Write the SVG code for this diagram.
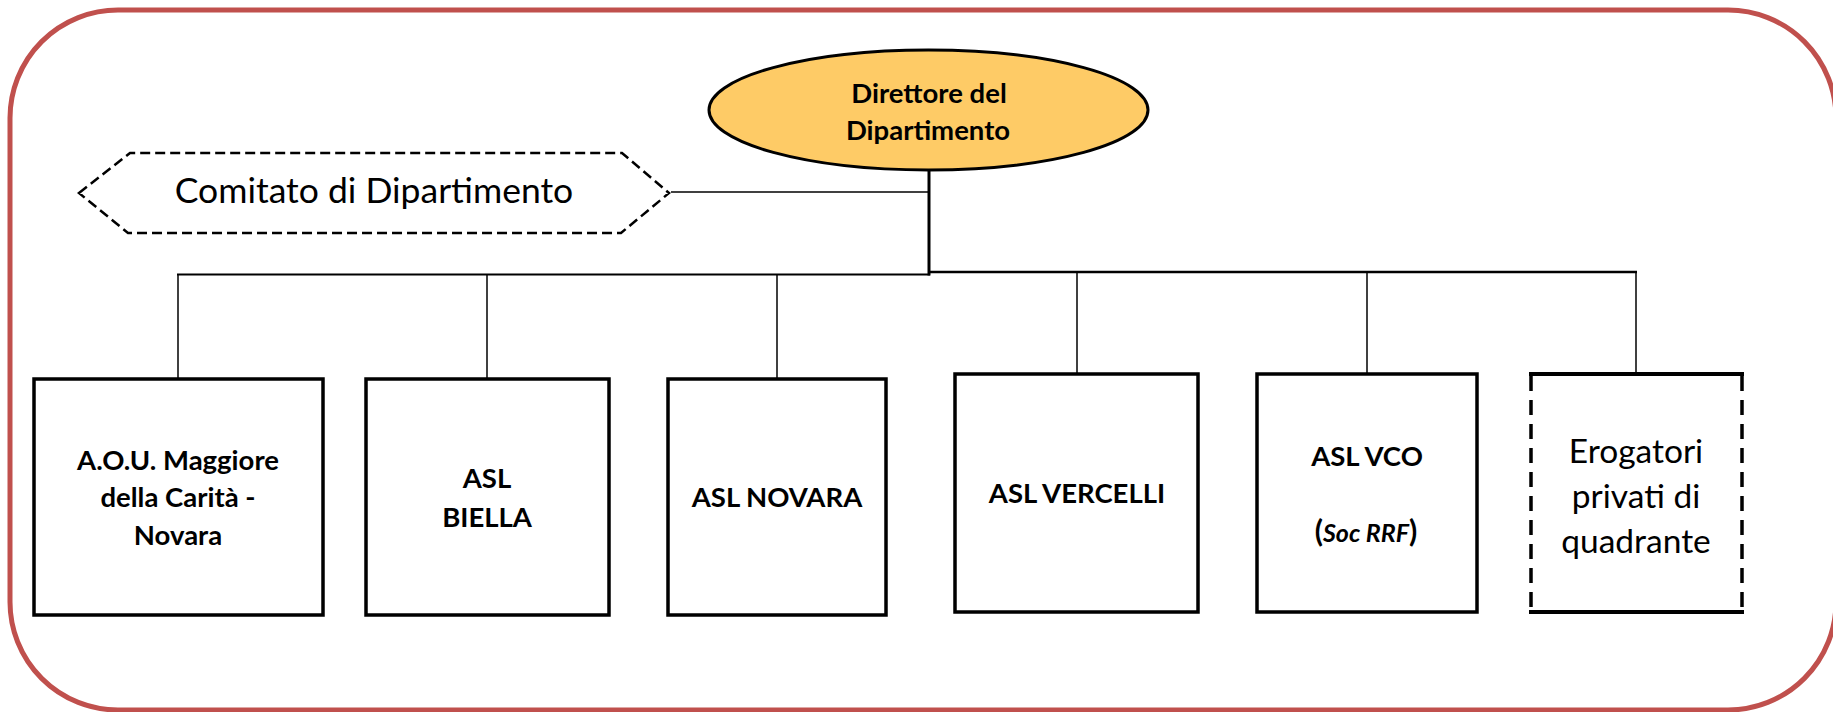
<svg xmlns="http://www.w3.org/2000/svg" width="1833" height="712" viewBox="0 0 1833 712">
<style>
.frame{fill:#FFFFFF;stroke:#C0504D;stroke-width:5}
.box{fill:#FFFFFF;stroke:#000000;stroke-width:3.5}
.b{font-family:Lato,"Liberation Sans",sans-serif;font-weight:bold;font-size:27.5px;fill:#000000;text-anchor:middle}
.r{font-family:Lato,"Liberation Sans",sans-serif;font-weight:normal;fill:#000000;text-anchor:middle}
.conn{stroke:#000000;fill:none}
</style>
<rect class="frame" x="10" y="10" width="1826" height="700" rx="108" ry="108"/>
<g id="connectors">
<line class="conn" x1="671" y1="192" x2="928" y2="192" stroke="#444444" stroke-width="1.5"/>
<line class="conn" x1="929" y1="170" x2="929" y2="275.5" stroke-width="3"/>
<line class="conn" x1="177" y1="274.5" x2="930" y2="274.5" stroke-width="2"/>
<line class="conn" x1="929" y1="272" x2="1637" y2="272" stroke-width="2.5"/>
<line class="conn" x1="178" y1="274" x2="178" y2="379" stroke-width="1.5"/>
<line class="conn" x1="487" y1="274" x2="487" y2="379" stroke-width="1.5"/>
<line class="conn" x1="777" y1="274" x2="777" y2="379" stroke-width="1.5"/>
<line class="conn" x1="1077" y1="272" x2="1077" y2="374" stroke-width="1.5"/>
<line class="conn" x1="1367" y1="272" x2="1367" y2="374" stroke-width="1.5"/>
<line class="conn" x1="1636" y1="272" x2="1636" y2="373" stroke-width="1.5"/>
</g>
<g id="direttore">
<ellipse cx="928.5" cy="110" rx="219.5" ry="60" fill="#FECB66" stroke="#000000" stroke-width="3"/>
<text class="b" x="929" y="103" font-size="30">Direttore del</text>
<text class="b" x="928" y="140" font-size="30">Dipartimento</text>
</g>
<g id="comitato">
<polygon points="79,193 130,153 622,153 669,193 621,233 128,233" fill="none" stroke="#000000" stroke-width="2.5" stroke-dasharray="10 5"/>
<text class="r" x="374" y="203" font-size="35.5">Comitato di Dipartimento</text>
</g>
<g id="aou">
<rect class="box" x="34" y="379" width="289" height="236"/>
<text class="b" x="178" y="470">A.O.U. Maggiore</text>
<text class="b" x="178" y="507">della Carità -</text>
<text class="b" x="178" y="545">Novara</text>
</g>
<g id="biella">
<rect class="box" x="366" y="379" width="243" height="236"/>
<text class="b" x="487" y="488">ASL</text>
<text class="b" x="487" y="527">BIELLA</text>
</g>
<g id="novara">
<rect class="box" x="668" y="379" width="218" height="236"/>
<text class="b" x="777" y="507">ASL NOVARA</text>
</g>
<g id="vercelli">
<rect class="box" x="955" y="374" width="243" height="238"/>
<text class="b" x="1077" y="503">ASL VERCELLI</text>
</g>
<g id="vco">
<rect class="box" x="1257" y="374" width="220" height="238"/>
<text class="b" x="1367" y="466">ASL VCO</text>
<text class="b" x="1366" y="542"><tspan font-size="30">(</tspan><tspan font-style="italic" font-size="25">Soc RRF</tspan><tspan font-size="30">)</tspan></text>
</g>
<g id="erogatori">
<line x1="1529" y1="374" x2="1744" y2="374" stroke="#000000" stroke-width="4"/>
<line x1="1529" y1="612" x2="1744" y2="612" stroke="#000000" stroke-width="4"/>
<line x1="1531" y1="376" x2="1531" y2="610" stroke="#000000" stroke-width="3.5" stroke-dasharray="15 9"/>
<line x1="1742" y1="376" x2="1742" y2="610" stroke="#000000" stroke-width="3.5" stroke-dasharray="15 9"/>
<text class="r" x="1636" y="463" font-size="33.5">Erogatori</text>
<text class="r" x="1636" y="508" font-size="33.5">privati di</text>
<text class="r" x="1636" y="553" font-size="33.5">quadrante</text>
</g>
</svg>
